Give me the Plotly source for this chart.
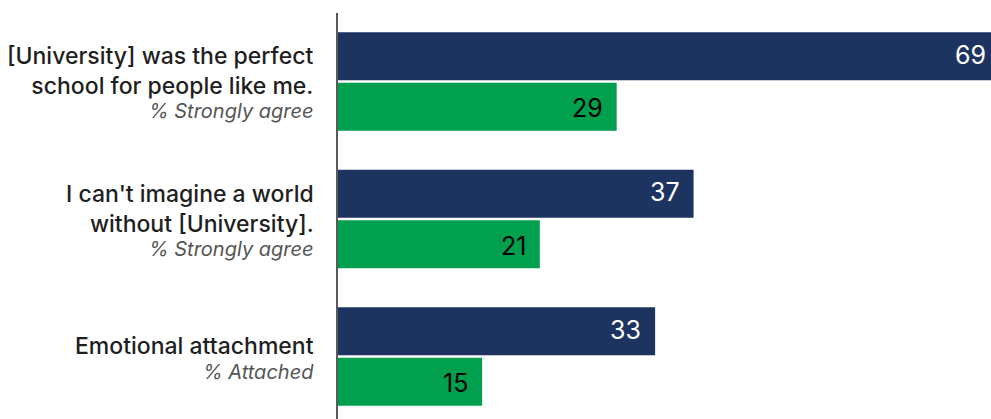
import plotly.graph_objects as go

# Survey statements (top to bottom) and their sub-captions
statements = [
    "[University] was the perfect<br>school for people like me.",
    "I can't imagine a world<br>without [University].",
    "Emotional attachment",
]
captions = ["% Strongly agree", "% Strongly agree", "% Attached"]

# Values for the two groups
navy_values = [69, 37, 33]
green_values = [29, 21, 15]

NAVY = "#1d3461"
GREEN = "#00a04e"
TEXT = "#1f1f1f"
CAPTION = "#555555"
FONT = "Inter, 'Noto Sans', sans-serif"
X_MAX = 67.95  # visible end of the value axis; longer bars run off the edge

cats = list(range(len(statements)))

fig = go.Figure()
fig.add_trace(go.Bar(
    y=cats, x=navy_values, orientation="h", marker=dict(color=NAVY, line=dict(width=0)),
    offsetgroup="a", hoverinfo="skip",
))
fig.add_trace(go.Bar(
    y=cats, x=green_values, orientation="h", marker=dict(color=GREEN, line=dict(width=0)),
    offsetgroup="b", hoverinfo="skip",
))


def add_value_label(value, ypos, color):
    """Label at the inner end of a bar; bars past the axis end get it at the edge."""
    if value <= X_MAX:
        pos = dict(x=value, xref="x", xshift=-12)
    else:
        pos = dict(x=1, xref="x domain", xshift=-3)
    fig.add_annotation(**pos, y=ypos, yref="y", text=str(value),
                       xanchor="right", yanchor="middle", showarrow=False,
                       font=dict(family=FONT, size=25, color=color))


bar_off = 0.196
for i in cats:
    add_value_label(navy_values[i], i - bar_off, "white")
    add_value_label(green_values[i], i + bar_off, "black")

# Category labels: statement block with an italic caption beneath it
for i, (s, c) in enumerate(zip(statements, captions)):
    extra_lines = s.count("<br>")
    fig.add_annotation(x=0, xref="x domain", xshift=-22, y=i, yref="y", yshift=10,
                       text=s, xanchor="right", yanchor="middle", align="right",
                       showarrow=False,
                       font=dict(family=FONT, size=23, color=TEXT, weight=500))
    fig.add_annotation(x=0, xref="x domain", xshift=-22, y=i, yref="y",
                       yshift=-(16 + 14 * extra_lines),
                       text=f"<i>{c}</i>", xanchor="right", yanchor="middle",
                       showarrow=False,
                       font=dict(family=FONT, size=20, color=CAPTION))

fig.update_layout(
    width=991, height=419,
    margin=dict(l=338, r=0, t=13, b=0),
    paper_bgcolor="white", plot_bgcolor="white",
    barmode="group", bargap=0.265, bargroupgap=0.05,
    showlegend=False,
    font=dict(family=FONT, color=TEXT),
    xaxis=dict(range=[0, X_MAX], visible=False, fixedrange=True),
    yaxis=dict(
        range=[2.455, -0.498],
        tickvals=cats, showticklabels=False,
        showline=True, linecolor="#5a5a5a", linewidth=2,
        showgrid=False, zeroline=False, ticks="",
    ),
)

fig.write_html("out.html")
